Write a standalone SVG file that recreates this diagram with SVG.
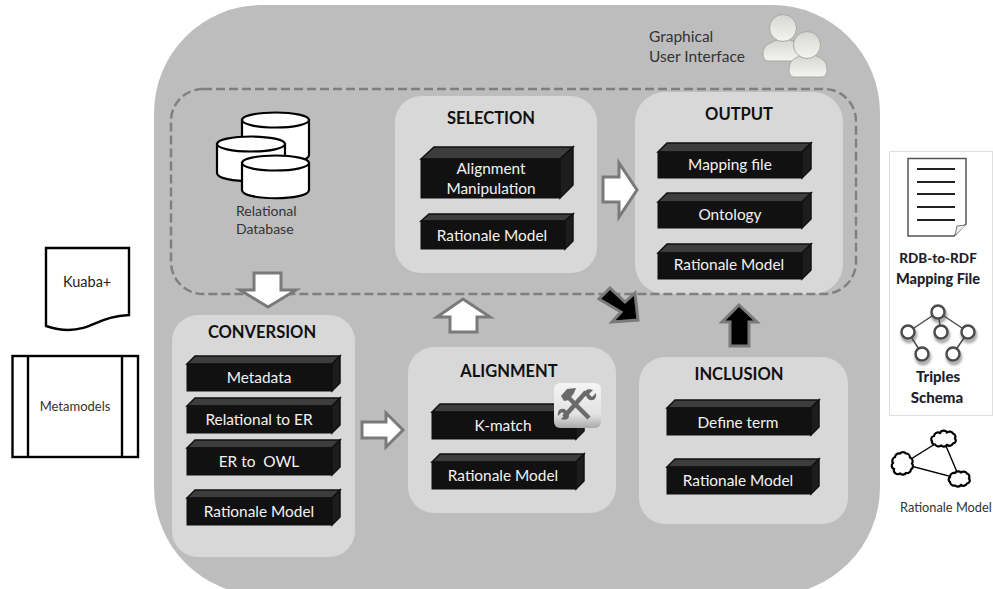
<svg xmlns="http://www.w3.org/2000/svg" width="993" height="589" viewBox="0 0 993 589">
<style>
text{font-family:"Lato","Open Sans",sans-serif}
.panel{fill:#d8d8d8}
.top{fill:#3d3d3d;stroke:#111;stroke-width:1.5}
.front{fill:#111;stroke:#111;stroke-width:1}
.side{fill:#1d1d1d;stroke:#111;stroke-width:1.5}
.lbl{fill:#f2f2f2;font-size:15.400px;text-anchor:middle}
.ttl{fill:#111;font-size:16.5px;font-weight:700;text-anchor:middle}
.cap{fill:#333;font-size:14px}
.wa{fill:#fff;stroke:#7a7a7a;stroke-width:3}
.ba{fill:#000;stroke:#7a7a7a;stroke-width:3}
.cyl{fill:#fff;stroke:#000;stroke-width:2.2}
.k{fill:#fff;stroke:#000;stroke-width:2.4}
.bt{fill:#1f1f2a;font-size:14.5px;font-weight:900;text-anchor:middle}
.dl{stroke:#222;stroke-width:2}
.tn{fill:#fff;stroke:#4a4a4a;stroke-width:2.4}
.cl{fill:#fff;stroke:#000;stroke-width:2.2}
</style>
<defs>
<linearGradient id="ug" x1="0" y1="0" x2="0" y2="1"><stop offset="0" stop-color="#d6d6d2"/><stop offset="1" stop-color="#f4f4f2"/></linearGradient>
<linearGradient id="tg" x1="0" y1="0" x2="0" y2="1"><stop offset="0" stop-color="#f5f5f5"/><stop offset="0.7" stop-color="#e2e2e2"/><stop offset="1" stop-color="#a9a9a9"/></linearGradient>
<filter id="sh" x="-20%" y="-20%" width="140%" height="150%"><feGaussianBlur stdDeviation="1.6"/></filter>
<filter id="soft" x="-10%" y="-10%" width="120%" height="120%"><feGaussianBlur stdDeviation="0.5"/></filter>
</defs>

<g id="gui-frame"><rect x="154" y="5" width="726" height="590" rx="108" ry="108" fill="#bdbdbd"/></g>

<g id="graphical-user-interface">
<text x="649" y="42" style="font-size:15.500px;fill:#333">Graphical</text>
<text x="649" y="62" style="font-size:15.500px;fill:#333">User Interface</text>
<g stroke="#a8a8a4" stroke-width="1">
<path d="M763 54c0-10 8-11 14-14h13c7 3 18 6 18 14 0 4-3 7-7 7h-33c-3 0-5-3-5-7z" fill="url(#ug)"/>
<circle cx="783" cy="28" r="13.5" fill="url(#ug)"/>
<path d="M789 70c0-11 7-12 13-15h12c7 3 13 5 13 15 0 4-2 7-6 7h-27c-3 0-5-3-5-7z" fill="url(#ug)"/>
<circle cx="807" cy="45" r="13.5" fill="url(#ug)"/>
</g>
</g>

<g id="selection">
<rect class="panel" x="395" y="96" width="202" height="177" rx="26"/>
<text class="ttl" x="491" y="124">SELECTION</text>
<polygon class="top" points="421,159 434,147 573,147 560,159"/><rect class="front" x="421" y="159" width="139" height="39"/><polygon class="side" points="560,159 573,147 573,185 560,198"/>
<text class="lbl" x="491" y="174">Alignment</text><text class="lbl" x="491" y="194">Manipulation</text>
<polygon class="top" points="421,221 429,214 573,214 565,221"/><rect class="front" x="421" y="221" width="144" height="28"/><polygon class="side" points="565,221 573,214 573,241 565,249"/>
<text class="lbl" x="492" y="241">Rationale Model</text>
</g>

<g id="output">
<rect class="panel" x="635" y="92" width="208" height="202" rx="30"/>
<text class="ttl" x="739" y="120">OUTPUT</text>
<polygon class="top" points="658,152 667,143 811,143 802,152"/><rect class="front" x="658" y="152" width="144" height="26"/><polygon class="side" points="802,152 811,143 811,169 802,178"/>
<text class="lbl" x="730" y="170">Mapping file</text>
<polygon class="top" points="658,202 667,193 811,193 802,202"/><rect class="front" x="658" y="202" width="144" height="26"/><polygon class="side" points="802,202 811,193 811,219 802,228"/>
<text class="lbl" x="730" y="220">Ontology</text>
<polygon class="top" points="658,253 667,244 811,244 802,253"/><rect class="front" x="658" y="253" width="144" height="26"/><polygon class="side" points="802,253 811,244 811,270 802,279"/>
<text class="lbl" x="729" y="270">Rationale Model</text>
</g>

<g id="gui-boundary"><rect x="171" y="89" width="685" height="205" rx="32" fill="none" stroke="#7f7f7f" stroke-width="2.4" stroke-dasharray="9 4"/></g>

<g id="relational-database">
<path class="cyl" d="M242 120v35c0 11 67 11 67 0v-35z"/><ellipse class="cyl" cx="275.500" cy="120" rx="33.500" ry="7.500"/>
<path class="cyl" d="M217 144v29c0 11 68 11 68 0v-29z"/><ellipse class="cyl" cx="251" cy="144" rx="34" ry="7.500"/>
<path class="cyl" d="M242 163v27c0 11 67 11 67 0v-27z"/><ellipse class="cyl" cx="275.500" cy="163" rx="33.500" ry="7.500"/>
<text class="cap" x="236" y="216">Relational</text><text class="cap" x="236" y="234">Database</text>
</g>

<g id="conversion">
<rect class="panel" x="172" y="315" width="183" height="242" rx="26"/>
<text class="ttl" x="262" y="338">CONVERSION</text>
<polygon class="top" points="187,364 195,356 340,356 332,364"/><rect class="front" x="187" y="364" width="145" height="27"/><polygon class="side" points="332,364 340,356 340,383 332,391"/>
<text class="lbl" x="259" y="383">Metadata</text>
<polygon class="top" points="187,406 195,398 340,398 332,406"/><rect class="front" x="187" y="406" width="145" height="27"/><polygon class="side" points="332,406 340,398 340,425 332,433"/>
<text class="lbl" x="259" y="425">Relational to ER</text>
<polygon class="top" points="187,448 195,440 340,440 332,448"/><rect class="front" x="187" y="448" width="145" height="27"/><polygon class="side" points="332,448 340,440 340,467 332,475"/>
<text class="lbl" x="259" y="467" xml:space="preserve">ER to  OWL</text>
<polygon class="top" points="187,498 195,490 340,490 332,498"/><rect class="front" x="187" y="498" width="145" height="27"/><polygon class="side" points="332,498 340,490 340,517 332,525"/>
<text class="lbl" x="259" y="517">Rationale Model</text>
</g>

<g id="alignment">
<rect class="panel" x="408" y="347" width="208" height="166" rx="26"/>
<text class="ttl" x="509" y="377">ALIGNMENT</text>
<polygon class="top" points="432,412 440,404 584,404 576,412"/><rect class="front" x="432" y="412" width="144" height="27"/><polygon class="side" points="576,412 584,404 584,431 576,439"/>
<text class="lbl" x="503" y="431">K-match</text>
<polygon class="top" points="432,462 440,454 584,454 576,462"/><rect class="front" x="432" y="462" width="144" height="27"/><polygon class="side" points="576,462 584,454 584,481 576,489"/>
<text class="lbl" x="503" y="481">Rationale Model</text>
<g id="tools-icon">
<rect x="554" y="383" width="47" height="45" rx="6" fill="url(#tg)"/>
<g filter="url(#soft)">
<path d="M566 395 589 418M586 392 564 417" stroke="#6a6a6a" stroke-width="4.500" fill="none"/>
<path d="M561 396 567 389 576 388 574 393 569 400 564 401z" fill="#6a6a6a"/>
<path d="M586 396C583 391 587 388 593 390L589 394 592 397 596 393C597 399 593 402 588 399z" fill="#6a6a6a"/>
<path d="M568 413C571 418 567 421 561 419L565 415 562 412 558 416C557 410 561 407 566 410z" fill="#6a6a6a"/>
</g>
</g>
</g>

<g id="inclusion">
<rect class="panel" x="639" y="357" width="209" height="167" rx="26"/>
<text class="ttl" x="739" y="380">INCLUSION</text>
<polygon class="top" points="667,408 675,400 819,400 811,408"/><rect class="front" x="667" y="408" width="144" height="27"/><polygon class="side" points="811,408 819,400 819,427 811,435"/>
<text class="lbl" x="738" y="428">Define term</text>
<polygon class="top" points="667,467 675,459 819,459 811,467"/><rect class="front" x="667" y="467" width="144" height="27"/><polygon class="side" points="811,467 819,459 819,486 811,494"/>
<text class="lbl" x="738" y="486">Rationale Model</text>
</g>

<g id="connectors">
<polygon class="wa" points="254,273 281,273 281,290 296,290 268,307 240,290 254,290"/>
<polygon class="wa" points="463,299 490,317 477,317 477,332 450,332 450,317 437,317"/>
<polygon class="wa" points="362,422 386,422 386,413 403,430 386,447 386,438 362,438"/>
<polygon class="wa" points="603,177 619,177 619,163 637,190 619,217 619,202 603,202"/>
<polygon class="ba" points="610,288 625,302 635,293 638,320 612,322 621,312 599,299"/>
<polygon class="ba" points="739,305 757,322 749,322 749,346 730,346 730,322 722,322"/>
</g>

<g id="kuaba">
<path class="k" d="M46 248H129V315C100 316 92 330 68 330 58 330 52 328 46 326Z"/>
<text x="63" y="287" style="font-size:14.5px;fill:#222">Kuaba+</text>
</g>

<g id="metamodels">
<rect class="k" x="12.500" y="356" width="125.500" height="101"/>
<path d="M28 356V457M122 356V457" stroke="#000" stroke-width="2.400" fill="none"/>
<text x="75" y="411" style="font-size:13px;fill:#333;text-anchor:middle">Metamodels</text>
</g>

<g id="outputs-legend">
<rect x="889.500" y="151.500" width="103" height="264" fill="#fff" stroke="#dedede"/>
<g id="mapping-file-icon">
<path d="M908 158.500H966V224L954 236H908Z" fill="#fff" stroke="#555" stroke-width="1.500"/>
<path d="M955 235 957 226 966 225" fill="#eee" stroke="#777" stroke-width="1"/>
<path class="dl" d="M917 169H955M917 182H955M917 194H955M917 207H955M917 220H955"/>
<text class="bt" x="938" y="263" style="font-size:13.500px">RDB-to-RDF</text><text class="bt" x="938" y="284">Mapping File</text>
</g>
<g id="triples-schema-icon">
<g filter="url(#sh)" transform="translate(1 3)" fill="none" stroke="#777" stroke-width="2.400"><circle cx="938" cy="312" r="6.500"/><circle cx="908" cy="332" r="6.500"/><circle cx="941" cy="332" r="6.500"/><circle cx="968" cy="332" r="6.500"/><circle cx="922" cy="354" r="6.500"/><circle cx="953" cy="354" r="6.500"/></g>
<path d="M938 312 908 332M938 312 941 332M938 312 968 332M908 332 922 354M968 332 953 354" stroke="#4a4a4a" stroke-width="1.500" fill="none"/>
<circle class="tn" cx="938" cy="312" r="6.500"/><circle class="tn" cx="908" cy="332" r="6.500"/><circle class="tn" cx="941" cy="332" r="6.500"/><circle class="tn" cx="968" cy="332" r="6.500"/><circle class="tn" cx="922" cy="354" r="6.500"/><circle class="tn" cx="953" cy="354" r="6.500"/>
<text class="bt" x="938" y="382" style="font-size:15px">Triples</text><text class="bt" x="937" y="403" style="font-size:15px">Schema</text>
</g>
</g>

<g id="rationale-model-legend">
<path d="M943 439 903 464 960 479ZM943 439 960 479" stroke="#000" stroke-width="1.400" fill="none"/>
<path class="cl" d="M932 441a3 3 0 0 1 2-5 4 4 0 0 1 6-3 4 4 0 0 1 7-.5 4 4 0 0 1 6 1 3.500 3.500 0 0 1 2 5 3 3 0 0 1-2 5 4 4 0 0 1-6 1.500 4 4 0 0 1-6 .5 4 4 0 0 1-6-1 3 3 0 0 1-3-4z"/>
<path class="cl" d="M894 469a3.500 3.500 0 0 1-1-6 4 4 0 0 1 2-6 4 4 0 0 1 5-3.500 4 4 0 0 1 6 0 4 4 0 0 1 4 4 4 4 0 0 1 2 6 4 4 0 0 1-1 6 4 4 0 0 1-5 3.500 4 4 0 0 1-6 .5 4 4 0 0 1-6-4.500z"/>
<path class="cl" d="M950 482a3 3 0 0 1 0-5 4 4 0 0 1 5-4 4 4 0 0 1 6-.5 4 4 0 0 1 6 1 3.500 3.500 0 0 1 2 5 3 3 0 0 1-2 5 4 4 0 0 1-6 1.500 4 4 0 0 1-6 .5 4 4 0 0 1-5-3.500z"/>
<text x="900" y="512" style="font-size:12.800px;fill:#333">Rationale Model</text>
</g>
</svg>
